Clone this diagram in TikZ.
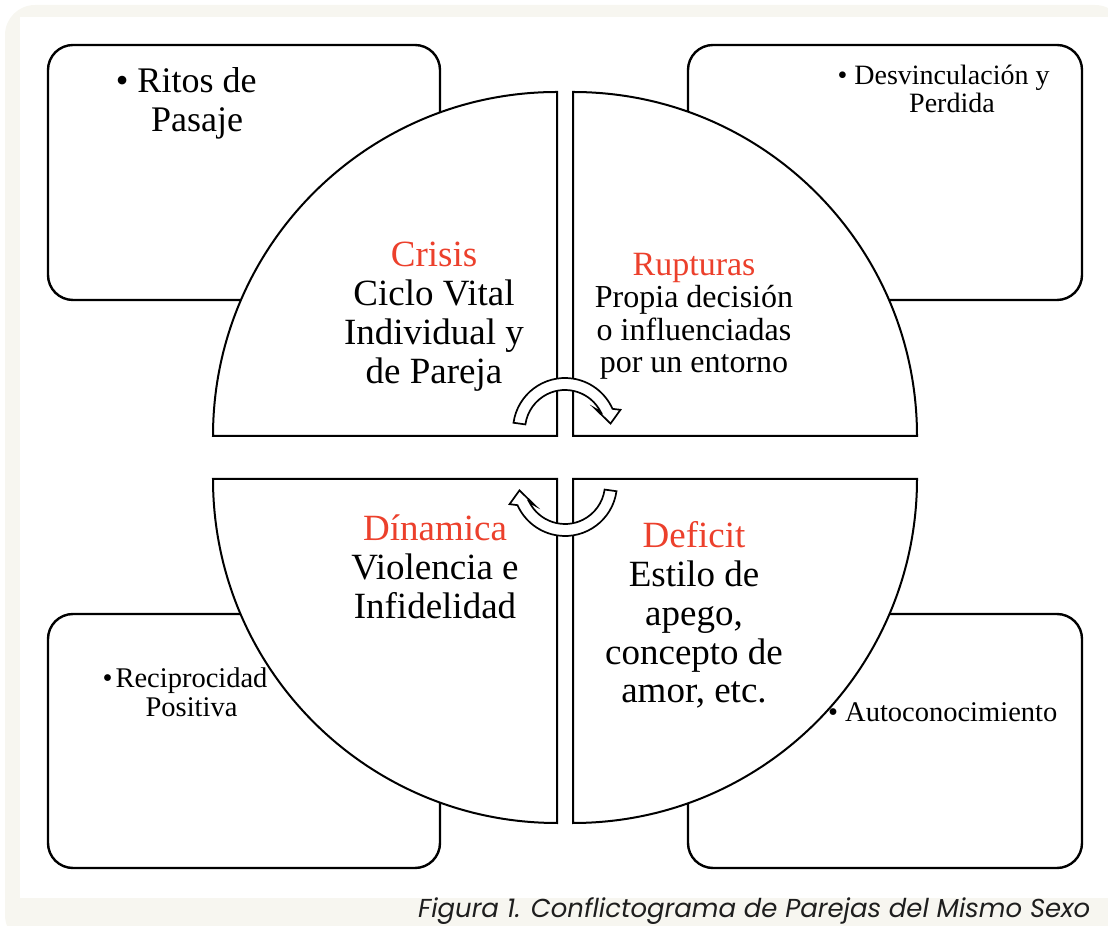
\documentclass[tikz,border=0pt]{standalone}
\usepackage{fontspec}
\setmainfont{Liberation Serif}
\newfontfamily\capfont{Poppins}
\definecolor{bgbeige}{RGB}{247,246,240}
\definecolor{crimson}{RGB}{236,64,44}
\definecolor{capgray}{RGB}{30,30,30}
\newcommand{\mytab}[1]{\begin{tabular}[t]{@{}c@{}}#1\end{tabular}}
\tikzset{
  cornerbox/.style={draw=black, line width=2.4pt, fill=white, rounded corners=25pt},
  quarter/.style={draw=black, line width=2pt, fill=white},
  bentarrow/.style={draw=black, line width=1.7pt, fill=white, line join=miter},
  txt/.style={inner sep=0pt, anchor=base, text=black},
}
\begin{document}
\begin{tikzpicture}[x=1pt,y=1pt]
\useasboundingbox (0,0) rectangle (1108,926);
% background frame
\fill[bgbeige, rounded corners=30pt] (5,-19) rectangle (1125,921);
\fill[white] (20,28) rectangle (1125,909);
% corner boxes
\draw[cornerbox] (48,626) rectangle (440,881);
\draw[cornerbox] (688,626) rectangle (1082,881);
\draw[cornerbox] (48,58) rectangle (440,312);
\draw[cornerbox] (688,58) rectangle (1082,312);
% quarter circles
\draw[quarter] (557,490) -- (213,490) arc[start angle=180, end angle=90, radius=344] -- cycle;
\draw[quarter] (573,490) -- (573,834) arc[start angle=90, end angle=0, radius=344] -- cycle;
\draw[quarter] (557,447) -- (213,447) arc[start angle=180, end angle=270, radius=344] -- cycle;
\draw[quarter] (573,447) -- (917,447) arc[start angle=0, end angle=-90, radius=344] -- cycle;
% curved arrows
\begin{scope}[shift={(565,496)}]
\draw[bentarrow] (172:52) arc[start angle=172, end angle=24, radius=52] -- (20:59) -- (8:46) -- (35:37) -- (27:40) arc[start angle=27, end angle=172, radius=40] -- cycle;
\end{scope}
\begin{scope}[shift={(565,442)}, rotate=180]
\draw[bentarrow] (172:52) arc[start angle=172, end angle=24, radius=52] -- (20:59) -- (8:46) -- (35:37) -- (27:40) arc[start angle=27, end angle=172, radius=40] -- cycle;
\end{scope}
% box texts
\node[txt] (ritos) at (197,833) {\fontsize{36}{39}\selectfont\mytab{\llap{\textbullet\ }Ritos de\\Pasaje}};
\node[txt] (desv) at (952,841) {\fontsize{28}{27}\selectfont\mytab{\llap{\textbullet\ }Desvinculación y\\Perdida}};
\node[txt] (recip) at (191.5,238) {\fontsize{28.5}{29}\selectfont\mytab{\llap{\textbullet\hspace{3pt}}Reciprocidad\\Positiva}};
\node[txt, anchor=base west] (auto) at (845,204) {\fontsize{28.5}{29}\selectfont\llap{\textbullet\hspace{7pt}}Autoconocimiento};
% quarter texts
\node[txt] (crisis) at (434,659) {\fontsize{37}{38.7}\selectfont\mytab{\textcolor{crimson}{Crisis}\\Ciclo Vital\\Individual y\\de Pareja}};
\node[txt] (rupt) at (694,650) {\fontsize{32}{32}\selectfont\mytab{{\fontsize{34}{32}\selectfont\textcolor{crimson}{Rupturas}}\\Propia decisión\\o influenciadas\\por un entorno}};
\node[txt] (dinam) at (435,385) {\fontsize{37}{38.7}\selectfont\mytab{\textcolor{crimson}{Dínamica}\\Violencia e\\Infidelidad}};
\node[txt] (defic) at (694,378) {\fontsize{37}{38.7}\selectfont\mytab{\textcolor{crimson}{Deficit}\\Estilo de\\apego,\\concepto de\\amor, etc.}};
% caption
\node[inner sep=0pt, anchor=base west, text=capgray] (caption) at (418,9) {\resizebox{672pt}{!}{\capfont\itshape\fontsize{24}{28}\selectfont Figura 1. Conflictograma de Parejas del Mismo Sexo}};
\end{tikzpicture}
\end{document}
